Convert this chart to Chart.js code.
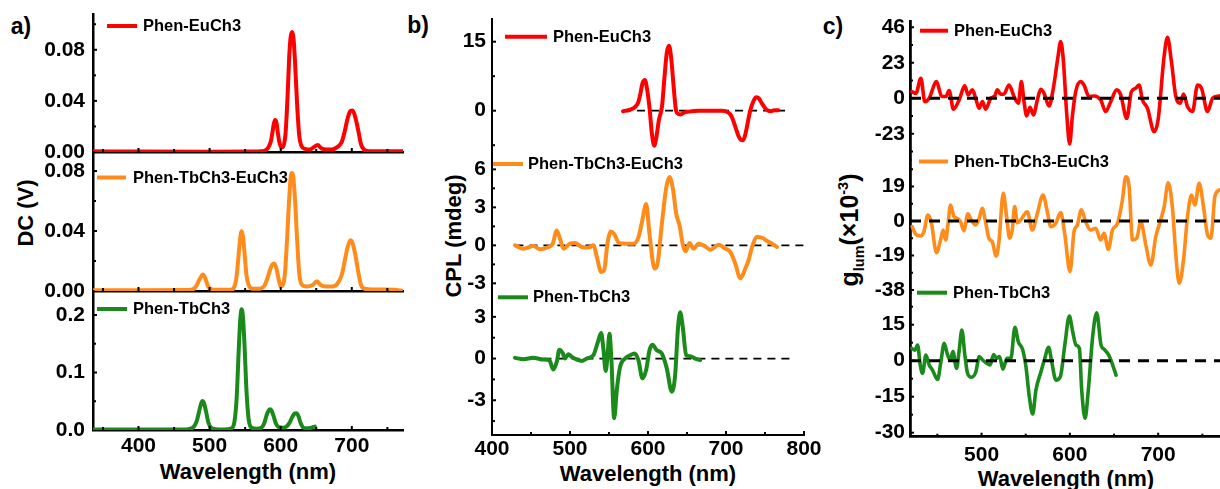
<!DOCTYPE html>
<html><head><meta charset="utf-8">
<script src="https://cdn.jsdelivr.net/npm/chart.js@4.4.0/dist/chart.umd.min.js"></script>
<style>
html,body{margin:0;padding:0;background:#fff;}
body{width:1220px;height:489px;overflow:hidden;position:relative;font-family:'Liberation Sans',Arial,Helvetica,sans-serif;}
canvas.layer{position:absolute;left:0;top:0;}
.t{position:absolute;white-space:nowrap;color:#000;font-weight:bold;line-height:1;transform:translate(-50%,-50%);}
.r{transform:translate(-50%,-50%) rotate(-90deg);}
sub,sup{font-size:58%;line-height:0;}
</style></head><body>
<div class="t" style="left:21px;top:26px;font-size:23px">a)</div>
<div class="t" style="left:418px;top:25px;font-size:23px">b)</div>
<div class="t" style="left:833px;top:26px;font-size:23px">c)</div>
<div class="t r" style="left:26px;top:213px;font-size:22px">DC (V)</div>
<div class="t r" style="left:454px;top:236px;font-size:22px">CPL (mdeg)</div>
<div class="t r" style="left:849px;top:230px;font-size:25px">g<sub>lum</sub>(×10<sup>-3</sup>)</div>
<div class="t" style="left:248px;top:472px;font-size:22px">Wavelength (nm)</div>
<div class="t" style="left:648px;top:474px;font-size:22px">Wavelength (nm)</div>
<div class="t" style="left:1066px;top:479px;font-size:22px">Wavelength (nm)</div>
<script>
// ---------------- DATA ----------------
const seriesNames = ['Phen-EuCh3', 'Phen-TbCh3-EuCh3', 'Phen-TbCh3'];

// a) DC (V)
const dcEuX = [336,400,500,560,572,579,583,586,588,590,592,594,596,598,601,604,607,610,612,614,616,618,620,623,626,629,634,641,647,652,657,664,672,680,686,690,694,698,701,705,709,713,717,725,772];
const dcEuY = [.0005,.0003,.0002,.0003,.0006,.0015,.004,.008,.014,.021,.025,.023,.015,.008,.0035,.005,.016,.048,.075,.09,.094,.089,.072,.038,.013,.005,.0025,.002,.004,.0055,.003,.002,.002,.004,.008,.016,.026,.032,.0325,.027,.017,.006,.002,.0006,.0005];
const dcTbEuX = [336,400,470,478,482,485,488,490,492,495,498,502,510,530,535,538,541,543,545,547,549,552,555,560,570,577,581,585,588,591,594,597,600,603,606,609,612,615,617,620,623,626,630,637,645,651,656,664,673,680,686,690,694,698,701,705,709,713,718,730,745,760,772];
const dcTbEuY = [.0005,.0005,.0006,.0015,.004,.007,.0095,.011,.0105,.007,.003,.0012,.0008,.0008,.003,.01,.025,.035,.0398,.036,.026,.01,.004,.0015,.0015,.0035,.008,.014,.0175,.0183,.015,.008,.003,.004,.012,.035,.062,.0787,.078,.062,.035,.012,.004,.003,.004,.0065,.004,.003,.003,.005,.011,.02,.029,.0338,.032,.024,.013,.004,.0015,.001,.001,.0008,.0002];
const dcTbX = [336,400,460,472,478,482,485,488,490,492,495,498,502,508,520,531,535,538,541,543,545,547,549,552,555,559,566,573,577,580,583,585,587,590,593,597,603,609,613,616,619,622,625,628,632,637,643,648];
const dcTbY = [.001,.001,.001,.002,.006,.016,.031,.046,.0504,.047,.032,.014,.004,.0015,.001,.003,.015,.055,.14,.19,.21,.195,.15,.065,.018,.004,.002,.004,.012,.025,.034,.036,.034,.024,.012,.005,.004,.007,.014,.022,.028,.029,.024,.012,.004,.003,.004,.006];

// b) CPL (mdeg)
const cplEuX = [568,575,580,584,587,590,593,596,599,602,605,608,611,614,618,621,624,627,630,633,636,639,642,646,652,665,680,695,702,707,712,716,719,722,725,728,731,735,739,742,746,750,754,758,762,767];
const cplEuY = [-0.1,0.1,0.4,0.9,1.6,3.5,6,6.7,4.5,0.5,-5,-7.6,-5.5,-2,1,7,12.5,14.1,11,5,0,-0.7,-0.8,-0.4,-0.2,0,0,0,-0.3,-1.2,-3.5,-5.5,-6.3,-6.4,-5,-2.5,0,2,2.9,2.7,1.6,0.6,0,-0.1,0.1,0.1];
const cplTbEuX = [429.5,440.2,453,461.6,472.3,477.9,483,487.3,491.5,500.1,506.5,515.1,523.6,530,534.4,539.9,543.8,548,552.4,556.6,563,572.9,581.4,587.8,592.2,597.7,601.9,608.4,612.2,617.8,623.4,627.6,632,636.2,640.5,644.8,648.2,653.3,658.5,664.9,671.3,679.9,690.6,699.1,705.5,711.9,718.4,724.8,729,733.4,739.8,746.2,752.6,759,765.4];
const cplTbEuY = [0,-0.26,-0.05,-0.3,-0.13,0.13,1.17,0.5,-0.26,0.13,0.18,-0.13,-0.18,0,-0.9,-2.1,-1.96,0.13,1.1,0.9,0.18,0.13,0.13,0.65,1.83,3.26,0.91,-1.83,-1.44,1.7,4.57,5.4,4.44,2.48,1.57,0,-0.47,0.18,-0.26,0.13,0,-0.34,0.05,-0.26,-0.52,-1.44,-2.6,-1.83,-1.17,-0.13,0.65,0.6,0.34,0.13,-0.13];
const cplTbX = [429.5,440.2,453,465.8,473.5,478.6,483,486.4,490.6,493.6,497.9,502.2,508.6,515.1,521.4,530,535.1,539.9,542.8,545.8,548,550.6,553.1,556.6,560,564.2,570.6,577,582.6,587.7,592.9,597.6,601.9,605.7,611.3,617.7,624.1,630.5,634.8,638.2,641.2,644.6,648.9,654,660.5,666.9];
const cplTbY = [0.05,-0.05,0.05,-0.07,-0.12,-0.79,-0.24,0.64,0.4,0,0.31,0.12,-0.07,-0.17,0,0.24,1.07,1.83,0.71,-0.9,0.12,1.79,-0.12,-4.29,-2.26,-0.6,0,0.24,0.36,-0.12,-1.43,-0.83,0.6,1.0,0.6,0.36,-0.71,-2.38,-1.19,2.02,3.33,2.26,0.24,0.17,0,-0.12];
const cplZeroSpans = [[568,782],[430,800],[430,786]];

// c) g_lum (x10^-3)
const glumEuX = [421.1,425.7,431.3,435.8,440.7,449,455,459.6,463.3,468.2,474.6,481,484.8,489.6,493.4,497.2,501,504.7,510.4,514.9,517.9,521.7,525.5,531.1,536.8,541.7,545.1,548.1,551.1,554.9,558.7,563.2,567,570.8,576.4,581.3,586.6,589.6,592.6,596.4,599.8,602.8,606.6,612.2,616,621.7,627.4,634.9,640.6,646.3,653.1,657.6,664.4,669.7,674.6,678.4,682.2,687.9,695.4,699.9,706.7,710.5,715,720,724.9,728.7,733.2,738.9,744.6,749.1,755.9,761.6,769.1];
const glumEuY = [4.3,3.2,13,-2.2,0,10.8,1.1,1.1,5,-7.1,-1.1,8,2.2,5.4,0,-6.5,-2.2,-7.1,0,1.5,5.4,2.6,2.8,8.6,1.1,-3.2,10.8,-2.2,-11.4,-5.8,-10.8,-1.1,5.8,3.2,-5,6.5,27,36.7,24.8,-9.7,-29.6,-11.9,4.3,10.8,8.6,1.1,1.5,-1.1,-8.6,-2.2,5.4,2.2,-13,4.3,6.5,8.6,-1.1,-6.5,-21.6,-14,27,39.5,23.8,1.1,-3.2,2.8,-5.4,-8.6,8.6,6.5,-8.6,0,1.5];
const glumTbEuX = [421.5,425.3,431,434.7,439.3,443,449,453.6,456.6,459.3,461.9,464.9,468.7,472.5,476.2,480,484.5,488.3,493.2,497,500.8,504.5,508.3,512.1,516.6,519.7,524.6,528.4,531.8,534.8,537.5,540.5,544.3,551.8,557.5,563.2,569.6,574.5,578.3,583.9,589.6,594.1,600.2,604.7,608.5,613,617.9,623.6,629.3,634.9,638.7,643.6,648.2,653.9,659.5,663.3,667.1,670.9,675.8,680.3,686,691.7,697.3,702.2,706.8,711.3,716.2,720,723.8,728.7,733.2,737.8,741.5,746.4,751.3,755.9,759.7,764.2,769.1];
const glumTbEuY = [-3.1,-7.2,-8.3,-5.9,3.3,-0.4,-17.4,-10.5,-5,-10.5,-2.2,8.8,2.4,1.5,-0.4,-5.3,3.9,0.6,-2.2,0.9,7,-0.4,-9.5,-11.4,-19.3,-11.4,15.2,2.4,-9.5,-5,7.9,-0.9,0.6,5.1,-5,4.2,14.3,5.1,-3.1,-1.3,4.6,-6.8,-27.9,-5.9,-2.2,6.1,-0.4,-5,-4,-10.5,-6.8,-15.6,-5,-1.3,11.6,24.4,18.9,-10.5,-9.5,-0.4,-13.2,-24.2,-8.6,-0.4,7.9,21.1,7,-18.7,-34.3,-21.5,2.4,14.3,8.8,20.7,7.9,-7.7,-9.5,13.4,17.1];
const glumTbX = [421.1,424.5,427.6,430.6,433.2,437,440.7,444.5,450.2,454,457.7,461.5,464.5,467.6,471.7,474.7,477.7,481.1,484.2,488.7,493.6,497.4,501.2,506.1,509.8,513.6,517,520.4,524.2,528.7,533.2,537.8,541.6,546.5,550.3,554.1,557.9,561.6,567.3,571.1,576,579.4,584.3,589.2,594.5,599.4,603.2,607,610.8,613.4,617.2,620.9,625.8,630.4,635.3,639,643.9,648.5,652.3];
const glumTbY = [5.1,4.4,6.5,-1.8,-5.3,2.4,-1.8,-3.9,-7.8,-0.4,7.2,2.4,0.3,3.8,-3.2,4.4,12.8,2.4,-5.3,-6.9,-4.6,1.7,0.3,-1.1,-1.8,2.6,1,1.7,-3.5,1,1,13.9,7.9,4.7,-2.5,-15,-22.2,-12.2,-4.6,0.3,5.6,-0.4,-8.1,-6.7,7.2,18.6,12.1,6.5,5.1,-12.2,-24,-12.2,10,20,6.5,4.7,2.4,-1.8,-6];
const glumZeroSpan = [419, 770];

// tick values and labels
const aXTicks = [400,500,600,700], aXLabels = ['400','500','600','700'], aXMinor = [350,450,550,650,750];
const bXTicks = [400,500,600,700,800], bXLabels = ['400','500','600','700','800'], bXMinor = [450,550,650,750];
const cXTicks = [500,600,700], cXLabels = ['500','600','700'], cXMinor = [450,550,650,750];
const aY1Ticks = [0,0.04,0.08], aY1Labels = ['0.00','0.04','0.08'], aY1Minor = [0.02,0.06,0.10];
const aY2Ticks = [0,0.04,0.08], aY2Labels = ['0.00','0.04','0.08'], aY2Minor = [0.02,0.06];
const aY3Ticks = [0,0.1,0.2], aY3Labels = ['0.0','0.1','0.2'], aY3Minor = [0.05,0.15];
const bY1Ticks = [0,15], bY1Labels = ['0','15'], bY1Minor = [-7.5,7.5];
const bY2Ticks = [-3,0,3,6], bY2Labels = ['-3','0','3','6'], bY2Minor = [-1.5,1.5,4.5];
const bY3Ticks = [-3,0,3], bY3Labels = ['-3','0','3'], bY3Minor = [-4.5,-1.5,1.5];
const cY1Ticks = [-23,0,23,46], cY1Labels = ['-23','0','23','46'], cY1Minor = [-34.5,-11.5,11.5,34.5];
const cY2Ticks = [-38,-19,0,19], cY2Labels = ['-38','-19','0','19'], cY2Minor = [-28.5,-9.5,9.5,28.5];
const cY3Ticks = [-30,-15,0,15], cY3Labels = ['-30','-15','0','15'], cY3Minor = [-22.5,-7.5,7.5,22.5];

// ---------------- DRAWING ----------------
const W = 1220, H = 489, YW = 80, XH = 40;
const FONT = "'Liberation Sans', Arial, Helvetica, sans-serif";
const RED = '#ff0000', ORANGE = '#ff8c1a', GREEN = '#1a8a1a';

function decoPlugin(p) {
  return {
    id: 'deco',
    afterDraw(chart) {
      const ctx = chart.ctx, ca = chart.chartArea, xs = chart.scales.x, ys = chart.scales.y;
      ctx.save();
      ctx.strokeStyle = '#000';
      ctx.lineWidth = p.tickW;
      const seg = (x1, y1, x2, y2) => { ctx.beginPath(); ctx.moveTo(x1, y1); ctx.lineTo(x2, y2); ctx.stroke(); };
      p.yTicks.forEach(v => { if (v === p.ymin) return; const y = ys.getPixelForValue(v); seg(ca.left, y, ca.left + p.major, y); });
      p.yMinor.forEach(v => { const y = ys.getPixelForValue(v); seg(ca.left, y, ca.left + p.minor, y); });
      if (p.xTickMarks) {
        p.xTicks.forEach(v => { const x = xs.getPixelForValue(v); seg(x, ca.bottom, x, ca.bottom - p.major); });
        p.xMinor.forEach(v => { const x = xs.getPixelForValue(v); seg(x, ca.bottom, x, ca.bottom - p.minor); });
      }
      // legend
      const lg = p.legend;
      ctx.strokeStyle = lg.color; ctx.lineWidth = 4; ctx.lineCap = 'butt';
      seg(lg.x1, lg.y, lg.x2, lg.y);
      ctx.fillStyle = '#000';
      ctx.font = 'bold 16.5px ' + FONT;
      ctx.textBaseline = 'middle'; ctx.textAlign = 'left';
      ctx.fillText(lg.text, lg.tx, lg.y + 0.5);
      ctx.restore();
    }
  };
}

function panel(p) {
  const el = document.createElement('canvas');
  el.width = W; el.height = H; el.className = 'layer';
  document.body.appendChild(el);
  const datasets = [{
    label: p.legend.text,
    data: p.sx.map((v, i) => ({ x: v, y: p.sy[i] })),
    borderColor: p.legend.color, borderWidth: p.lw,
    cubicInterpolationMode: 'monotone', pointRadius: 0, fill: false, order: 1,
    borderJoinStyle: 'round', borderCapStyle: 'round'
  }];
  if (p.zero) datasets.push({
    label: 'zero', data: p.zero.map(v => ({ x: v, y: 0 })),
    borderColor: '#000', borderWidth: p.dashW, borderDash: p.dash, pointRadius: 0,
    tension: 0, fill: false, order: p.zeroTop ? 0 : 2
  });
  const tickFont = { family: FONT, size: 21, weight: 'bold' };
  const showX = !!p.xLabels;
  new Chart(el, {
    type: 'line',
    data: { datasets },
    options: {
      responsive: false, animation: false, events: [],
      layout: { autoPadding: false, padding: { left: p.L - YW, top: p.T, right: W - p.R, bottom: H - p.B - (showX ? XH : 0) } },
      plugins: { legend: { display: false }, tooltip: { enabled: false } },
      scales: {
        x: {
          type: 'linear', min: p.xmin, max: p.xmax,
          grid: { display: false, drawTicks: false },
          border: { display: p.xBorder, color: '#000', width: p.axisW },
          ticks: { display: showX, autoSkip: false, maxRotation: 0, padding: p.xPad, color: '#000', font: tickFont,
                   callback: (v, i) => showX ? p.xLabels[i] : '' },
          afterBuildTicks: s => { s.ticks = p.xTicks.map(v => ({ value: v })); },
          afterFit: s => { s.height = showX ? XH : 0; s.paddingLeft = 0; s.paddingRight = 0; }
        },
        y: {
          type: 'linear', min: p.ymin, max: p.ymax,
          grid: { display: false, drawTicks: false },
          border: { display: true, color: '#000', width: p.axisW },
          ticks: { autoSkip: false, padding: p.yPad, color: '#000', font: tickFont,
                   callback: (v, i) => p.yLabels[i] },
          afterBuildTicks: s => { s.ticks = p.yTicks.map(v => ({ value: v })); },
          afterFit: s => { s.width = YW; s.paddingTop = 0; s.paddingBottom = 0; }
        }
      }
    },
    plugins: [decoPlugin(p)]
  });
}

// column a
const colA = { L: 93, R: 403, xmin: 336, xmax: 772, xTicks: aXTicks, xMinor: aXMinor, xBorder: true, xTickMarks: true,
  axisW: 2.5, tickW: 2, major: 4, minor: 3, lw: 4, yPad: 8, xPad: 4 };
panel(Object.assign({}, colA, { T: 14, B: 152, ymin: 0, ymax: 0.108, yTicks: aY1Ticks, yLabels: aY1Labels, yMinor: aY1Minor,
  sx: dcEuX, sy: dcEuY, legend: { color: RED, text: seriesNames[0], x1: 107, x2: 137, y: 26, tx: 143 } }));
panel(Object.assign({}, colA, { T: 152, B: 291, ymin: 0, ymax: 0.0927, yTicks: aY2Ticks, yLabels: aY2Labels, yMinor: aY2Minor,
  sx: dcTbEuX, sy: dcTbEuY, legend: { color: ORANGE, text: seriesNames[1], x1: 97, x2: 126, y: 177.5, tx: 133 } }));
panel(Object.assign({}, colA, { T: 291, B: 430, ymin: 0, ymax: 0.2417, yTicks: aY3Ticks, yLabels: aY3Labels, yMinor: aY3Minor,
  xLabels: aXLabels, sx: dcTbX, sy: dcTbY, legend: { color: GREEN, text: seriesNames[2], x1: 97, x2: 127, y: 309, tx: 133 } }));

// column b
const colB = { L: 492, R: 804, xmin: 400, xmax: 800, xTicks: bXTicks, xMinor: bXMinor, axisW: 2, tickW: 2, major: 4, minor: 3,
  lw: 4, yPad: 6, xPad: 2, dashW: 1.8, dash: [8, 6], zeroTop: false };
panel(Object.assign({}, colB, { T: 18.7, B: 156.7, ymin: -10, ymax: 20, yTicks: bY1Ticks, yLabels: bY1Labels, yMinor: bY1Minor,
  xBorder: false, xTickMarks: false, zero: cplZeroSpans[0],
  sx: cplEuX, sy: cplEuY, legend: { color: RED, text: seriesNames[0], x1: 505, x2: 547, y: 36.7, tx: 553 } }));
panel(Object.assign({}, colB, { T: 156.7, B: 296, ymin: -4, ymax: 7, yTicks: bY2Ticks, yLabels: bY2Labels, yMinor: bY2Minor,
  xBorder: false, xTickMarks: false, zero: cplZeroSpans[1],
  sx: cplTbEuX, sy: cplTbEuY, legend: { color: ORANGE, text: seriesNames[1], x1: 493, x2: 523, y: 164, tx: 528 } }));
panel(Object.assign({}, colB, { T: 296, B: 435, ymin: -5.5, ymax: 4.5, yTicks: bY3Ticks, yLabels: bY3Labels, yMinor: bY3Minor,
  xBorder: true, xTickMarks: true, xLabels: bXLabels, zero: cplZeroSpans[2],
  sx: cplTbX, sy: cplTbY, legend: { color: GREEN, text: seriesNames[2], x1: 498, x2: 528, y: 297.3, tx: 533 } }));

// column c
const colC = { L: 910, R: 1220, xmin: 419, xmax: 770, xTicks: cXTicks, xMinor: cXMinor, axisW: 2.8, tickW: 2, major: 4, minor: 3,
  lw: 3.6, yPad: 5, xPad: 6, dashW: 3, dash: [11, 8], zeroTop: true, zero: glumZeroSpan };
panel(Object.assign({}, colC, { T: 21.7, B: 160, ymin: -40, ymax: 49.6, yTicks: cY1Ticks, yLabels: cY1Labels, yMinor: cY1Minor,
  xBorder: false, xTickMarks: false,
  sx: glumEuX, sy: glumEuY, legend: { color: RED, text: seriesNames[0], x1: 920, x2: 948, y: 30.7, tx: 954 } }));
panel(Object.assign({}, colC, { T: 160, B: 293.6, ymin: -40, ymax: 33.6, yTicks: cY2Ticks, yLabels: cY2Labels, yMinor: cY2Minor,
  xBorder: false, xTickMarks: false,
  sx: glumTbEuX, sy: glumTbEuY, legend: { color: ORANGE, text: seriesNames[1], x1: 919, x2: 948, y: 161.5, tx: 954 } }));
panel(Object.assign({}, colC, { T: 293.6, B: 436.7, ymin: -31.67, ymax: 27.96, yTicks: cY3Ticks, yLabels: cY3Labels, yMinor: cY3Minor,
  xBorder: true, xTickMarks: true, xLabels: cXLabels,
  sx: glumTbX, sy: glumTbY, legend: { color: GREEN, text: seriesNames[2], x1: 917, x2: 947, y: 292.7, tx: 953 } }));
</script>
</body></html>
